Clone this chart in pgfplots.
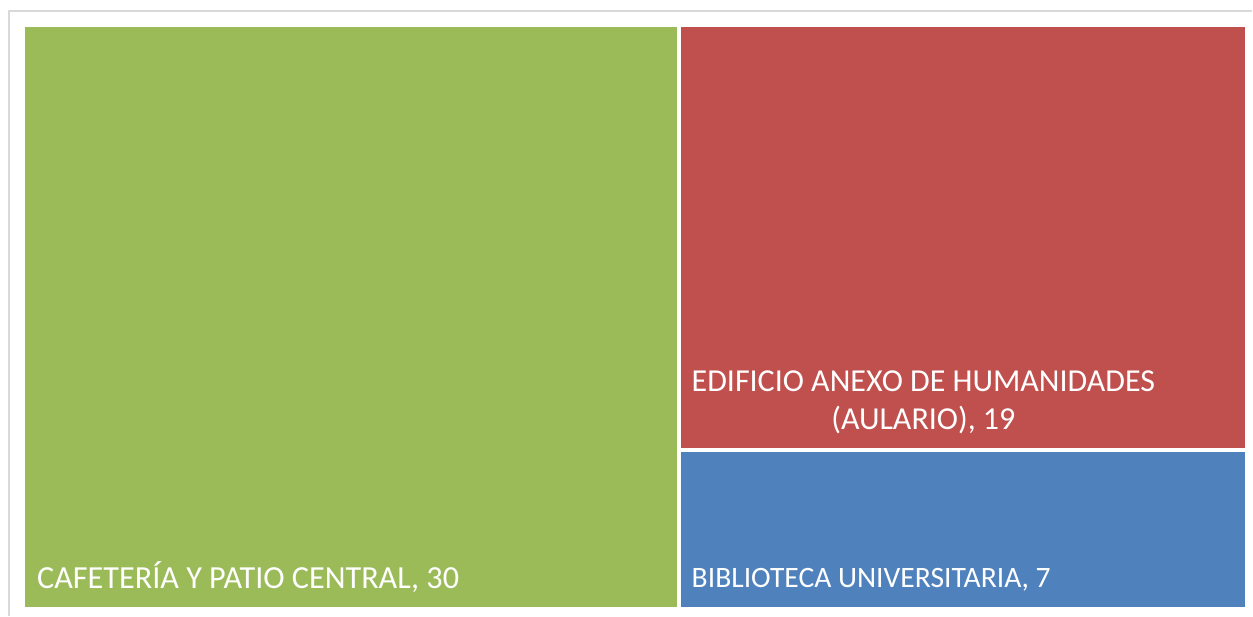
\documentclass[border=0pt]{standalone}
\usepackage{pgfplots}
\pgfplotsset{compat=1.18}
\usepackage{fontspec}
\setmainfont{Carlito}
\definecolor{tmgreen}{HTML}{9BBB59}
\definecolor{tmred}{HTML}{C0504D}
\definecolor{tmblue}{HTML}{4F81BD}
\definecolor{framegray}{HTML}{D9D9D9}
\begin{document}
\begin{tikzpicture}
\begin{axis}[
  width=1253bp, height=616bp, scale only axis,
  xmin=0, xmax=1253, ymin=0, ymax=616, y dir=reverse,
  hide axis, clip=false,
]
% full canvas (keeps the bounding box at the reference size)
\path (axis cs:0,0) rectangle (axis cs:1253,616);
% outer chart frame
\addplot[draw=framegray, line width=1.8bp] coordinates {(8.8,616) (8.8,10.8) (1253,10.8)};
% treemap tiles (values 30, 19, 7; total 56)
\addplot[draw=none, fill=tmgreen] coordinates {(25,27) (677,27) (677,607) (25,607)} -- cycle;
\addplot[draw=none, fill=tmred] coordinates {(681,27) (1246,27) (1246,448) (681,448)} -- cycle;
\addplot[draw=none, fill=tmblue] coordinates {(681,452) (1246,452) (1246,607) (681,607)} -- cycle;
% labels
\node[anchor=base west, inner sep=0pt, text=white, font=\fontsize{32.2bp}{38bp}\selectfont] at (axis cs:37,589) {CAFETERÍA Y PATIO CENTRAL, 30};
\node[anchor=base, inner sep=0pt, text=white, font=\fontsize{32bp}{38bp}\selectfont] at (axis cs:924,392) {EDIFICIO ANEXO DE HUMANIDADES};
\node[anchor=base, inner sep=0pt, text=white, font=\fontsize{32bp}{38bp}\selectfont] at (axis cs:924,430) {(AULARIO), 19};
\node[anchor=base west, inner sep=0pt, text=white, font=\fontsize{29.6bp}{35bp}\selectfont] at (axis cs:692,588) {BIBLIOTECA UNIVERSITARIA, 7};
\end{axis}
\end{tikzpicture}
\end{document}
